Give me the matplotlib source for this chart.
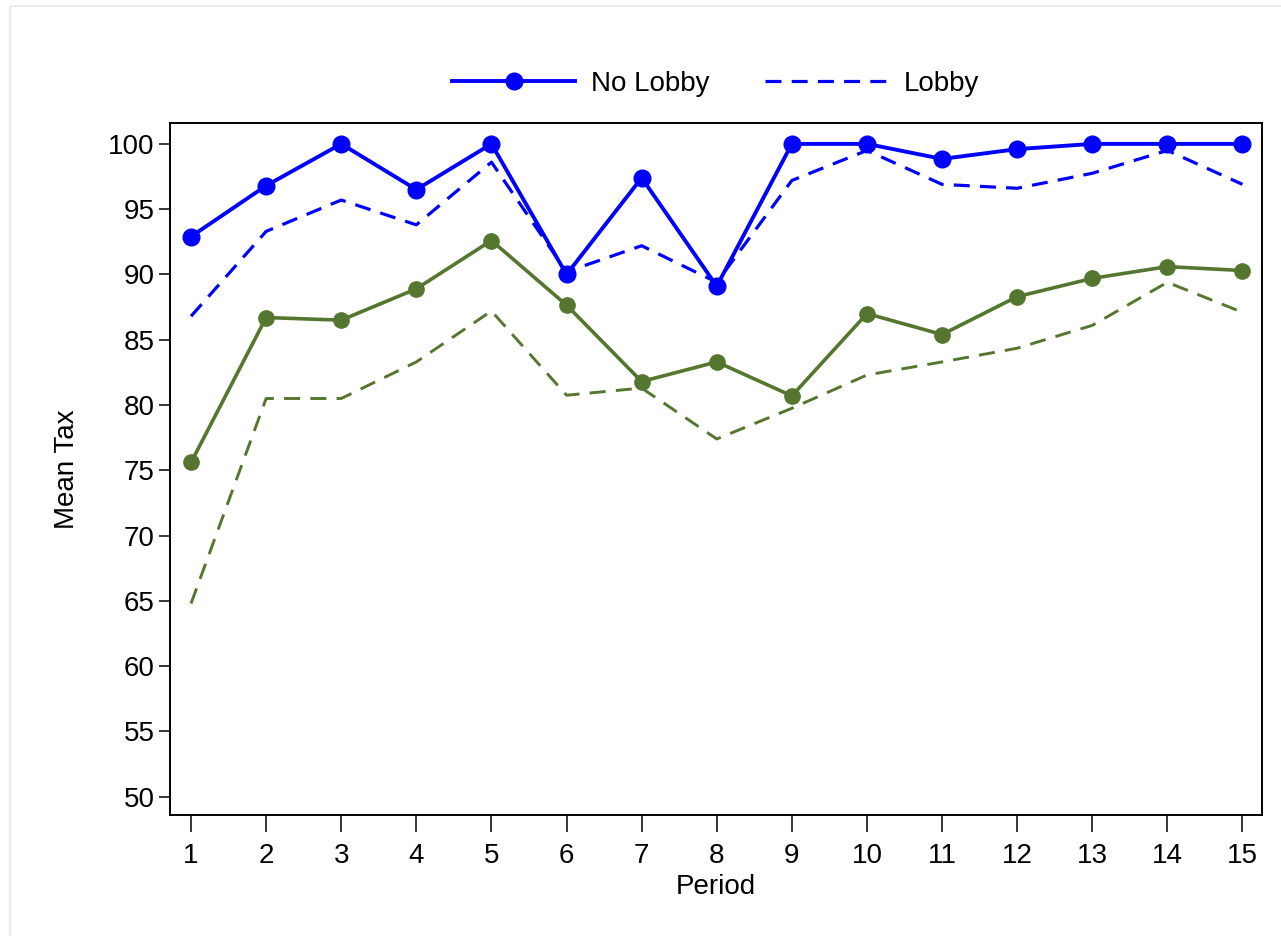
import matplotlib
matplotlib.use("Agg")
import matplotlib.pyplot as plt
from matplotlib.patches import Rectangle

plt.rcParams['font.family'] = ['Liberation Sans', 'DejaVu Sans']

# data
periods = list(range(1, 16))
blue_nolobby = [92.9, 96.8, 100, 96.5, 100, 90.0, 97.4, 89.1, 100, 100, 98.85, 99.6, 100, 100, 100]
blue_lobby = [86.8, 93.3, 95.7, 93.8, 98.6, 90.2, 92.2, 89.4, 97.2, 99.5, 96.9, 96.6, 97.75, 99.5, 96.9]
green_nolobby = [75.6, 86.7, 86.5, 88.9, 92.6, 87.65, 81.8, 83.3, 80.7, 87.0, 85.4, 88.3, 89.7, 90.6, 90.3]
green_lobby = [64.8, 80.5, 80.5, 83.3, 87.2, 80.75, 81.3, 77.4, 79.75, 82.3, 83.3, 84.35, 86.1, 89.4, 87.1]
yticks = list(range(50, 101, 5))

BLUE = '#0000ff'
GREEN = '#55762f'

W, H = 1281, 936
fig = plt.figure(figsize=(W / 100, H / 100), dpi=100)
ax = fig.add_axes([170 / W, 1 - 815 / H, (1262 - 170) / W, (815 - 123) / H])

# light outer frame (graph region border)
fig.patches.append(Rectangle((10 / W, -0.01), 1.0, 1 - 6 / H + 0.01, transform=fig.transFigure,
                             fill=False, edgecolor='#e3e9ec', linewidth=1.2, zorder=0))

l1, = ax.plot(periods, blue_nolobby, color=BLUE, lw=2.8, marker='o', ms=12, label='No Lobby', zorder=4)
l2, = ax.plot(periods, blue_lobby, color=BLUE, lw=2.3, dashes=(5, 3.2), label='Lobby', zorder=3)
ax.plot(periods, green_nolobby, color=GREEN, lw=2.6, marker='o', ms=11, zorder=4)
ax.plot(periods, green_lobby, color=GREEN, lw=2.1, dashes=(5.5, 3.5), zorder=3)

ax.set_xlim(0.72, 15.26)
ax.set_ylim(48.6, 101.6)
ax.set_xticks(periods)
ax.set_yticks(yticks)
ax.tick_params(axis='x', length=12, width=1.1, labelsize=20, pad=8, direction='out')
ax.tick_params(axis='y', length=8, width=1.1, labelsize=20, pad=3, direction='out')
for s in ax.spines.values():
    s.set_linewidth(1.4)

ax.set_xlabel('Period', fontsize=20, labelpad=4)
ax.set_ylabel('Mean Tax', fontsize=20, labelpad=20)

fig.legend(handles=[l1, l2], loc='center', bbox_to_anchor=(716 / W, 1 - 84 / H), ncol=2,
           frameon=False, fontsize=20, handlelength=4.4, columnspacing=2.0, handletextpad=0.6)

fig.savefig('out.png', dpi=100, facecolor='white')
